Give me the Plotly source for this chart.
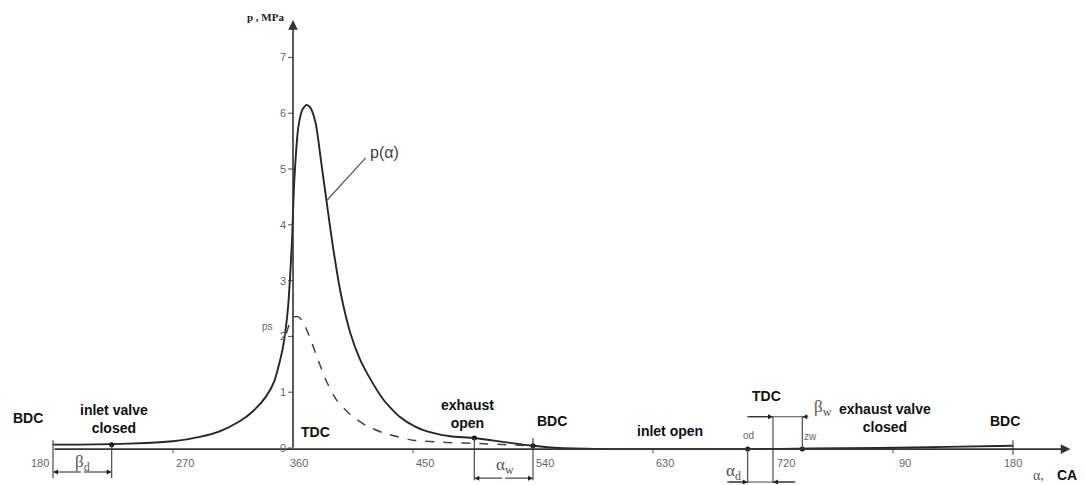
import plotly.graph_objects as go

# ---------------- data ----------------
# crank angle (deg, continuous 180..900) and cylinder pressure p(α), MPa
alpha_p = [180, 200, 224, 250, 270, 290, 305, 320, 330, 340, 346, 352, 356, 359, 361,
           364, 367, 370, 373, 377, 381, 385, 390, 396, 403, 410, 416, 428, 440, 452,
           465, 478, 496, 520, 540, 560, 600, 650, 700, 750, 800, 850, 900]
p_vals = [0.06, 0.06, 0.07, 0.09, 0.12, 0.2, 0.3, 0.48, 0.66, 0.93, 1.2, 1.75, 2.45, 3.6, 4.8,
          5.75, 6.06, 6.15, 6.1, 5.82, 5.15, 4.45, 3.6, 2.75, 2.06, 1.6, 1.32, 0.86, 0.56, 0.38,
          0.27, 0.21, 0.18, 0.1, 0.04, 0.0, -0.02, -0.02, -0.02, -0.01, 0.0, 0.02, 0.04]
# dashed curve ps
alpha_ps = [355, 358, 361, 364, 367, 372, 378, 385, 393, 403, 415, 428, 450, 475, 500, 520, 540]
ps_vals = [2.05, 2.27, 2.35, 2.35, 2.28, 2.02, 1.63, 1.2, 0.85, 0.6, 0.4, 0.27, 0.14, 0.1, 0.08, 0.06, 0.04]

x_tick_vals = [180, 270, 360, 450, 540, 630, 720, 810, 900]
x_tick_text = ["180", "270", "360", "450", "540", "630", "720", "90", "180"]
y_tick_vals = [0, 1, 2, 3, 4, 5, 6, 7]

# valve events (deg CA) and pressure at those points
ev_inlet_closed = 224
ev_exhaust_open = 496
ev_bdc = 540
ev_od = 701
ev_tdc = 720
ev_zw = 742
event_alpha = [ev_inlet_closed, ev_exhaust_open, ev_bdc, ev_od, ev_zw]
event_p = [0.06, 0.18, 0.04, -0.02, -0.02]

# ---------------- figure ----------------
AX = "#4a4a4a"
CURVE = "#262626"
GRAY = "#666666"

fig = go.Figure()

fig.add_trace(go.Scatter(x=alpha_p, y=p_vals, mode="lines",
                         line=dict(color=CURVE, width=1.9, shape="spline", smoothing=0.6),
                         hoverinfo="skip"))
fig.add_trace(go.Scatter(x=alpha_ps, y=ps_vals, mode="lines",
                         line=dict(color="#444444", width=1.5, dash="dash", shape="spline", smoothing=0.6),
                         hoverinfo="skip"))
fig.add_trace(go.Scatter(x=event_alpha, y=event_p, mode="markers",
                         marker=dict(color="#111111", size=5), hoverinfo="skip"))

shapes = []
annots = []

def vline(x, y0, y1, w=1.2, c=AX):
    shapes.append(dict(type="line", xref="x", yref="y", x0=x, x1=x, y0=y0, y1=y1,
                       line=dict(color=c, width=w)))

def hline(y, x0, x1, w=1.2, c=AX):
    shapes.append(dict(type="line", xref="x", yref="y", x0=x0, x1=x1, y0=y, y1=y,
                       line=dict(color=c, width=w)))

def arrow(x, y, ax, ay, w=1.0, size=1.0, head=2, c="#222222"):
    annots.append(dict(x=x, y=y, ax=ax, ay=ay, xref="x", yref="y", axref="x", ayref="y",
                       text="", showarrow=True, arrowhead=head, arrowsize=size,
                       arrowwidth=w, arrowcolor=c))

def label(x, y, text, size=14, color="#111111", bold=True, family="Liberation Sans, Arial, sans-serif",
          xanchor="center", yanchor="middle", xshift=0):
    t = "<b>%s</b>" % text if bold else text
    annots.append(dict(x=x, y=y, xref="x", yref="y", text=t, showarrow=False,
                       font=dict(size=size, color=color, family=family),
                       xanchor=xanchor, yanchor=yanchor, xshift=xshift))

# horizontal axis with arrow
arrow(943, -0.02, 180, -0.02, w=1.6, size=1.2, head=2, c="#333333")
# vertical axis with arrow
arrow(360, 7.67, 360, -0.02, w=1.6, size=1.2, head=2, c="#333333")

# y ticks and labels
for v in y_tick_vals:
    hline(v, 356.3, 360, w=1.0)
    label(352.3, v, str(v), size=11, color=GRAY, bold=False)

# x tick marks and labels
x_label_shift = [-13, 12, 6, 12, 12, 12, 13, 12, 0]
for v, t, s in zip(x_tick_vals, x_tick_text, x_label_shift):
    if v in (270, 450, 630, 810):
        vline(v, -0.02, -0.09, w=1.0)
    label(v, -0.27, t, size=11, color=GRAY, bold=False, xshift=s)

# dimension lines
vline(180, 0.14, -0.54)
vline(ev_inlet_closed, 0.06, -0.54)
arrow(180, -0.43, 202, -0.43, w=1.0, size=1.0)
arrow(ev_inlet_closed, -0.43, 202, -0.43, w=1.0, size=1.0)

vline(ev_exhaust_open, 0.18, -0.58)
vline(ev_bdc, 0.18, -0.58)
arrow(ev_exhaust_open, -0.54, 518, -0.54, w=1.0, size=1.0)
arrow(ev_bdc, -0.54, 518, -0.54, w=1.0, size=1.0)

vline(ev_od, -0.02, -0.63)
vline(ev_tdc, 0.56, -0.63)
vline(ev_zw, 0.56, -0.02)
vline(900, 0.14, -0.12)

hline(-0.61, 685.5, 737, w=1.0)
hline(0.56, 700.5, 746.5, w=1.0)
arrow(ev_od, -0.61, 685.5, -0.61, w=1.0, size=1.0)
arrow(ev_tdc, -0.61, 737, -0.61, w=1.0, size=1.0)
arrow(ev_tdc, 0.56, 700.5, 0.56, w=1.0, size=1.0)
arrow(ev_zw, 0.56, 746.5, 0.56, w=1.0, size=1.0)

# leader to p(α)
shapes.append(dict(type="line", xref="x", yref="y", x0=385.5, y0=4.44, x1=414.5, y1=5.2,
                   line=dict(color="#555555", width=1.2)))

# text labels
label(161.25, 0.54, "BDC")
label(226, 0.52, "inlet valve<br>closed")
label(377, 0.29, "TDC")
label(491, 0.61, "exhaust<br>open")
label(554, 0.48, "BDC")
label(643, 0.30, "inlet open")
label(715, 0.93, "TDC")
label(804, 0.54, "exhaust valve<br>closed")
label(894, 0.48, "BDC")

serif = "Liberation Serif, Times New Roman, serif"
label(416, 5.3, "p(α)", size=16, color="#444444", bold=False, family="Liberation Sans, Arial, sans-serif", xanchor="left")
label(340.5, 2.17, "ps", size=10, color=GRAY, bold=False)
label(701.25, 0.22, "od", size=10, color=GRAY, bold=False)
label(747.75, 0.2, "zw", size=10, color=GRAY, bold=False)
label(201.75, -0.27, "β<sub>d</sub>", size=17, color="#555555", bold=False, family=serif)
label(519, -0.32, "α<sub>w</sub>", size=17, color="#555555", bold=False, family=serif)
label(690, -0.43, "α<sub>d</sub>", size=17, color="#555555", bold=False, family=serif)
label(757.5, 0.72, "β<sub>w</sub>", size=17, color="#555555", bold=False, family=serif)
label(354.5, 7.72, "p , MPa", size=11, color="#222222", bold=True, family=serif, xanchor="right")
label(913.5, -0.484, "α,", size=14, color="#555555", bold=False, family=serif, xanchor="left")
label(931.5, -0.484, "CA", size=14, color="#111111", bold=True, xanchor="left")

fig.update_layout(
    width=1085, height=485, autosize=False,
    margin=dict(l=0, r=0, t=0, b=0),
    paper_bgcolor="white", plot_bgcolor="white",
    showlegend=False,
    xaxis=dict(range=[140.25, 954], visible=False, fixedrange=True),
    yaxis=dict(range=[-0.663, 8.029], visible=False, fixedrange=True),
    shapes=shapes, annotations=annots,
)

fig.write_html("out.html", config={"displayModeBar": False})
